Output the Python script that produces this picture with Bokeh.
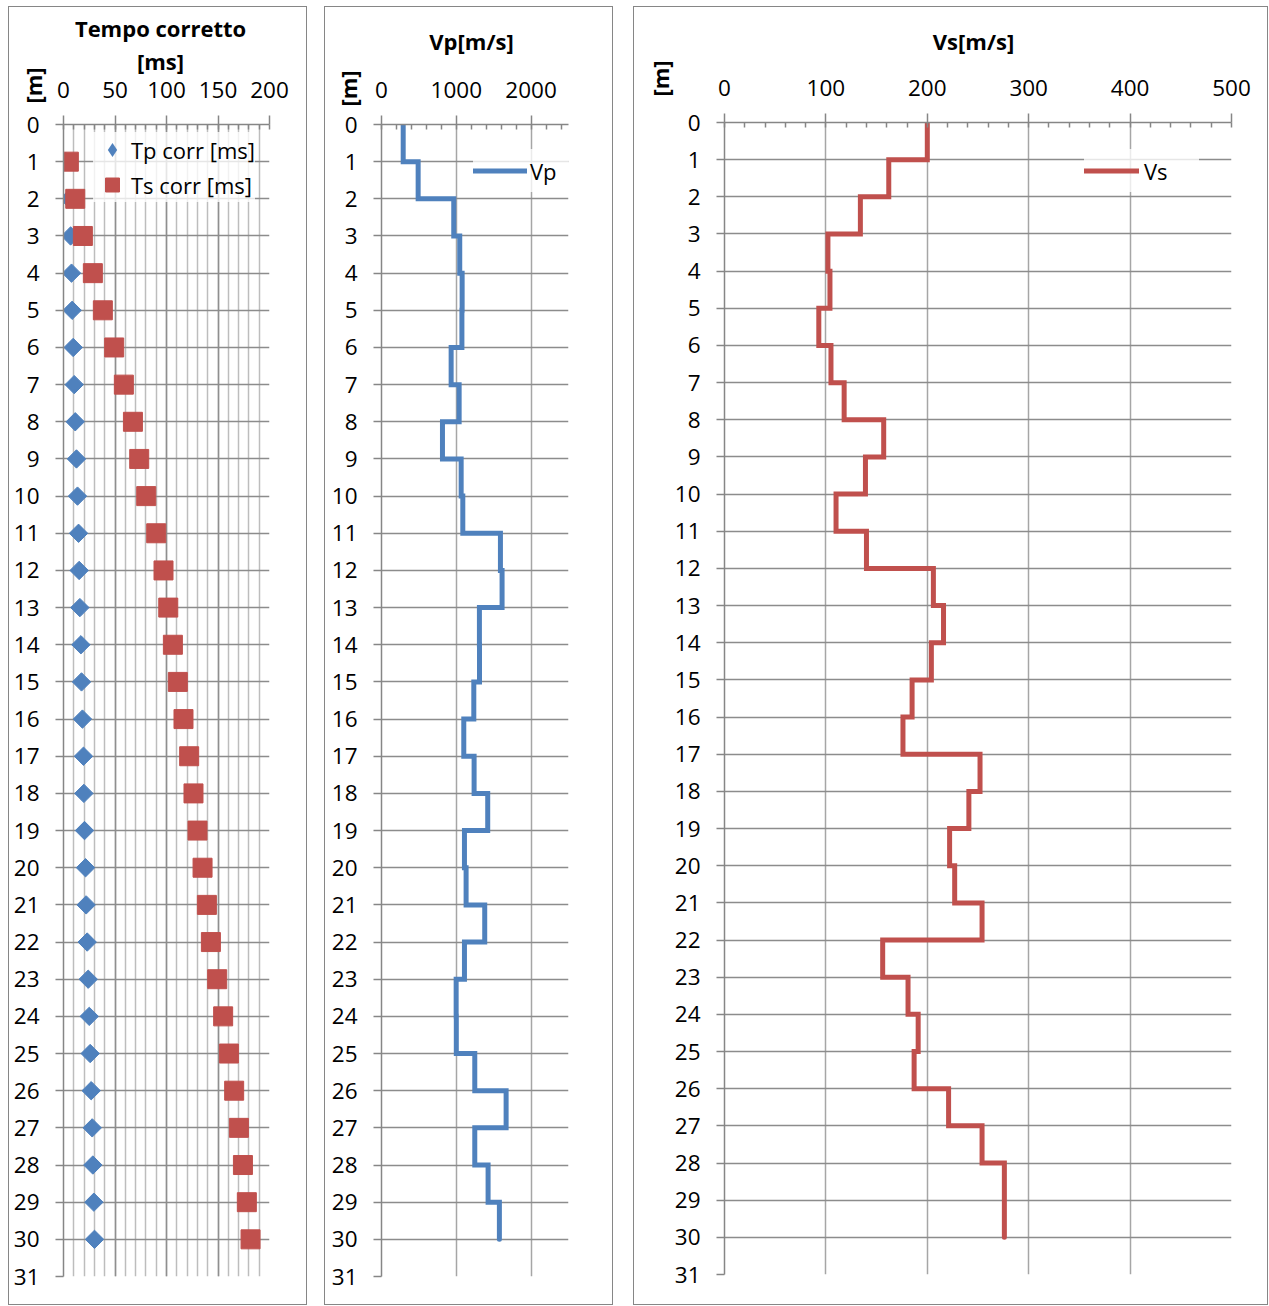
import numpy as np
from bokeh.plotting import figure
from bokeh.layouts import row
from bokeh.models import (Range1d, FixedTicker, SingleIntervalTicker, Label,
                          Legend, LegendItem)
from bokeh.embed import file_html
from bokeh.resources import INLINE

# ---------------- data ----------------
depth = list(range(1, 31))
tp_corr = [2.3, 5.5, 6.9, 7.8, 8.4, 9.4, 10.4, 11.4, 12.6, 13.6, 14.6, 15.2, 15.9, 16.9, 17.5,
           18.4, 19.4, 19.8, 20.4, 21.4, 22.0, 23.0, 24.0, 25.0, 25.9, 26.9, 27.9, 28.5, 29.5, 30.1]
ts_corr = [5.2, 11.4, 18.8, 28.5, 38.2, 49.2, 58.6, 67.4, 73.5, 80.3, 90.0, 97.1, 101.7, 106.2, 111.0,
           116.5, 122.0, 126.2, 130.1, 135.0, 139.2, 143.1, 149.2, 155.0, 160.6, 165.7, 170.3, 174.2, 178.0, 181.6]

layer_top = list(range(0, 30))
layer_bottom = list(range(1, 31))
vp = [290, 490, 966, 1046, 1078, 1075, 931, 1038, 815, 1065, 1087, 1590, 1612, 1309, 1310,
      1234, 1100, 1238, 1420, 1109, 1131, 1380, 1109, 998, 1000, 1247, 1666, 1247, 1425, 1576]
vs = [200, 162, 134, 102, 104, 93, 105, 118, 157, 139, 110, 140, 206, 216, 204,
      185, 176, 252, 241, 222, 227, 254, 156, 181, 191, 187, 221, 254, 276, 276]

depth_ticks = list(range(0, 32))

# ---------------- style ----------------
FONT = "Open Sans"
GRID_H = "#8c8c8c"
GRID_V = "#a6a6a6"
GRID_MINOR = "#bdbdbd"
AXIS = "#868686"
BLUE = "#4F81BD"
RED = "#C0504D"


def make_fig(width, x_end, mb_left, mb_right, mb_top, mb_bottom, interval, margin_left):
    p = figure(width=width, height=1299, x_range=Range1d(0, x_end), y_range=Range1d(31, 0),
               x_axis_location="above", output_backend="svg", toolbar_location=None,
               min_border_left=mb_left, min_border_right=mb_right,
               min_border_top=mb_top, min_border_bottom=mb_bottom,
               margin=(6, 0, 0, margin_left),
               styles={"border": "1px solid #868686"})
    if "frame_align" in type(p).properties():
        p.frame_align = False
    p.outline_line_color = None
    p.background_fill_color = "white"
    p.border_fill_color = "white"

    p.yaxis.ticker = FixedTicker(ticks=depth_ticks)
    p.xaxis.ticker = SingleIntervalTicker(interval=interval, num_minor_ticks=5)

    for ax in (p.xaxis[0], p.yaxis[0]):
        ax.axis_line_color = AXIS
        ax.axis_line_width = 1.5
        ax.major_tick_line_color = AXIS
        ax.major_tick_line_width = 1.5
        ax.minor_tick_line_color = AXIS
        ax.minor_tick_line_width = 1.5
        ax.major_label_text_font = FONT
        ax.major_label_text_font_size = "22.5px"
        ax.major_label_text_color = "black"
    p.yaxis.major_tick_out = 8
    p.yaxis.major_tick_in = 0
    p.yaxis.minor_tick_out = 0
    p.yaxis.minor_tick_in = 0
    p.yaxis.major_label_standoff = 16
    p.xaxis.major_tick_out = 9
    p.xaxis.major_tick_in = 0
    p.xaxis.minor_tick_out = 0
    p.xaxis.minor_tick_in = 5
    p.xaxis.major_label_standoff = 18

    p.ygrid.grid_line_color = GRID_H
    p.ygrid.grid_line_width = 1.5
    p.xgrid.grid_line_color = GRID_V
    p.xgrid.grid_line_width = 1.5
    return p


def add_text(p, text, cx, cy, side, angle=0.0, size="22px"):
    p.add_layout(Label(x=cx, y=cy, x_units="canvas", y_units="canvas", text=text,
                       text_font=FONT, text_font_size=size, text_font_style="bold",
                       text_align="center", text_baseline="middle", angle=angle,
                       text_color="black"), side)


def style_legend(leg):
    leg.border_line_color = None
    leg.background_fill_color = "white"
    leg.background_fill_alpha = 0.78
    leg.label_text_font = FONT
    leg.label_text_font_size = "22px"
    leg.label_text_color = "black"
    leg.margin = 0


# ---------------- panel 1: Tempo corretto ----------------
p1 = make_fig(299, 200, 54, 39, 117, 30, 50, 8)
p1.xgrid.minor_grid_line_color = GRID_MINOR
p1.xgrid.minor_grid_line_width = 1.5
p1.xgrid.grid_line_color = "#8f8f8f"

r_tp = p1.scatter(tp_corr, depth, marker="square", angle=np.pi / 4, size=13,
                  fill_color=BLUE, line_color=BLUE, line_width=1)
r_ts = p1.scatter(ts_corr, depth, marker="square", size=19,
                  fill_color=RED, line_color=RED, line_width=1)
# zero-size diamond renderer: only supplies the diamond symbol of the legend
r_tp_key = p1.scatter(tp_corr, depth, marker="diamond", size=0,
                      fill_color=BLUE, line_color=BLUE, line_width=0)

leg1 = Legend(items=[LegendItem(label="Tp corr [ms]", renderers=[r_tp_key]),
                     LegendItem(label="Ts corr [ms]", renderers=[r_ts])],
              location=(30, 1074), glyph_width=38, glyph_height=35, spacing=0,
              label_standoff=0, padding=4)
style_legend(leg1)
p1.add_layout(leg1)

add_text(p1, "Tempo corretto", 150, 19, "above")
add_text(p1, "[ms]", 150, 52, "below")
add_text(p1, "[m]", 22, 77, "right", np.pi / 2)

# ---------------- panel 2: Vp ----------------
p2 = make_fig(289, 2500, 56, 46, 117, 30, 1000, 17)
r_vp = p2.line(np.repeat(vp, 2), np.column_stack([layer_top, layer_bottom]).ravel(),
               line_color=BLUE, line_width=5, line_join="miter", line_cap="round")
leg2 = Legend(items=[LegendItem(label="Vp", renderers=[r_vp])],
              location=(92, 1084), glyph_width=54, glyph_height=43, label_standoff=3,
              padding=10, label_width=40)
style_legend(leg2)
p2.add_layout(leg2)
add_text(p2, "Vp[m/s]", 145, 32, "above")
add_text(p2, "[m]", 21, 80, "right", np.pi / 2)

# ---------------- panel 3: Vs ----------------
p3 = make_fig(635, 500, 90, 38, 115, 32, 100, 20)
r_vs = p3.line(np.repeat(vs, 2), np.column_stack([layer_top, layer_bottom]).ravel(),
               line_color=RED, line_width=5, line_join="miter", line_cap="round")
leg3 = Legend(items=[LegendItem(label="Vs", renderers=[r_vs])],
              location=(360, 1082), glyph_width=55, glyph_height=43, label_standoff=5,
              padding=10, label_width=55)
style_legend(leg3)
p3.add_layout(leg3)
add_text(p3, "Vs[m/s]", 338, 32, "above")
add_text(p3, "[m]", 24, 70, "left", np.pi / 2)

layout = row(p1, p2, p3, spacing=0)
open("out.html", "w").write(file_html(layout, INLINE))
